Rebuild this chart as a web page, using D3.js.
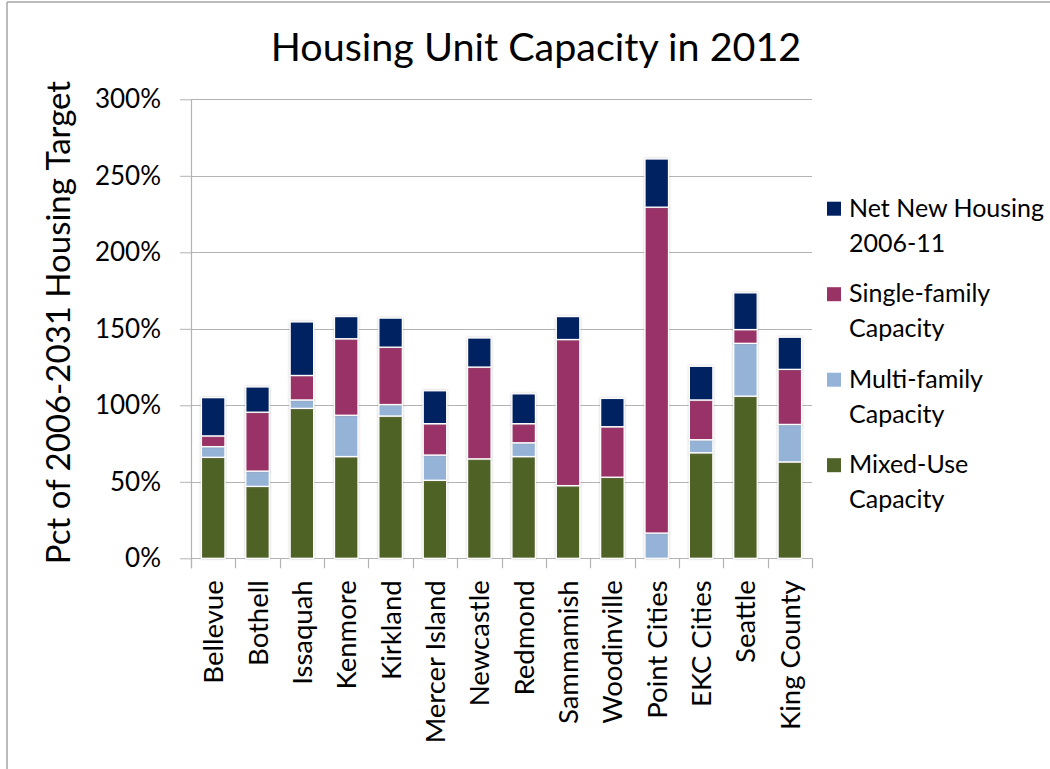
<!DOCTYPE html>
<html>
<head>
<meta charset="utf-8">
<script src="https://cdn.jsdelivr.net/npm/d3@7/dist/d3.min.js"></script>
<style>
  html, body { margin: 0; padding: 0; background: #fff; }
  svg { display: block; }
  text { font-family: Lato, "Open Sans", sans-serif; fill: #000; }
</style>
</head>
<body>
<svg id="chart" width="1050" height="769"></svg>
<script>
// ---- data ----
const categories = ["Bellevue", "Bothell", "Issaquah", "Kenmore", "Kirkland", "Mercer Island",
  "Newcastle", "Redmond", "Sammamish", "Woodinville", "Point Cities", "EKC Cities", "Seattle", "King County"];
const mixedUse     = [66, 47, 98, 66.5, 93, 51, 65, 66.5, 47.5, 53, 0, 69, 106, 63];
const multiFamily  = [7, 10, 5.5, 27, 7.5, 16.5, 0, 9, 0, 0, 16.5, 8.5, 34.5, 24.5];
const singleFamily = [7, 38.5, 16, 50, 37.5, 20.5, 60, 12.5, 95.5, 33, 213, 26, 9, 36];
const netNew       = [25, 16.5, 35, 14.5, 19, 21.5, 19, 19.5, 15, 18.5, 31.5, 22, 24, 21];
const seriesNames  = ["Mixed-Use Capacity", "Multi-family Capacity", "Single-family Capacity", "Net New Housing 2006-11"];
const seriesKeys   = ["mixed", "multi", "single", "net"];
const seriesColors = ["#4F6228", "#95B3D7", "#993366", "#002060"];
const yTicks       = [0, 50, 100, 150, 200, 250, 300];
const titleText    = "Housing Unit Capacity in 2012";
const yTitle       = "Pct of 2006-2031 Housing Target";

const rows = categories.map((c, i) => ({
  cat: c, mixed: mixedUse[i], multi: multiFamily[i], single: singleFamily[i], net: netNew[i]
}));

const svg = d3.select("#chart");
const W = 1050, H = 769;
const plot = { left: 191, right: 812, top: 99.3, bottom: 558.3 };

// frame lines
svg.append("line").attr("x1", 7).attr("x2", 7).attr("y1", 2).attr("y2", H)
  .attr("stroke", "#a6a6a6").attr("stroke-width", 1.5);
svg.append("line").attr("x1", 7).attr("x2", W).attr("y1", 2).attr("y2", 2)
  .attr("stroke", "#a6a6a6").attr("stroke-width", 1.5);

const x = d3.scaleBand().domain(categories).range([plot.left, plot.right]).paddingInner(0.47).paddingOuter(0.235);
const y = d3.scaleLinear().domain([0, 300]).range([plot.bottom, plot.top]);

// gridlines + y ticks
const yAxis = d3.axisLeft(y).tickValues(yTicks).tickSize(11).tickPadding(19).tickFormat(d => d + "%");
const gy = svg.append("g").attr("transform", `translate(${plot.left},0)`).call(yAxis);
gy.select(".domain").remove();
gy.selectAll(".tick line").attr("stroke", "#b3b3b3");
gy.selectAll(".tick text").attr("font-size", 26).attr("fill", "#111").style("font-family", "Lato, sans-serif");
svg.append("g").selectAll("line").data(yTicks).join("line")
  .attr("x1", plot.left).attr("x2", plot.right)
  .attr("y1", d => Math.round(y(d)) + 0.5).attr("y2", d => Math.round(y(d)) + 0.5)
  .attr("stroke", "#b3b3b3").attr("stroke-width", 1.2);
// y axis line
svg.append("line").attr("x1", plot.left + 0.5).attr("x2", plot.left + 0.5)
  .attr("y1", plot.top).attr("y2", plot.bottom + 10).attr("stroke", "#b3b3b3").attr("stroke-width", 1.2);

// x tick marks at band boundaries
const step = x.step();
const bounds = d3.range(categories.length + 1).map(i => plot.left + i * step);
svg.append("g").selectAll("line").data(bounds).join("line")
  .attr("x1", d => Math.round(d) + 0.5).attr("x2", d => Math.round(d) + 0.5)
  .attr("y1", plot.bottom).attr("y2", plot.bottom + 10)
  .attr("stroke", "#b3b3b3").attr("stroke-width", 1.2);

// stacked bars
const stack = d3.stack().keys(seriesKeys);
const stacked = stack(rows);
const defs = svg.append("defs");
const f = defs.append("filter").attr("id", "sh").attr("x", "-20%").attr("y", "-20%").attr("width", "140%").attr("height", "140%");
f.append("feDropShadow").attr("dx", 0).attr("dy", 0).attr("stdDeviation", 1.2).attr("flood-color", "#888").attr("flood-opacity", 0.5);

const gBars = svg.append("g");
stacked.forEach((layer, li) => {
  gBars.append("g").attr("fill", seriesColors[li])
    .selectAll("rect").data(layer.filter(d => d[1] - d[0] > 0)).join("rect")
    .attr("x", d => x(d.data.cat))
    .attr("width", x.bandwidth())
    .attr("y", d => y(d[1]))
    .attr("height", d => y(d[0]) - y(d[1]))
    .attr("stroke", "#fff").attr("stroke-width", 1.3)
    .attr("filter", "url(#sh)");
});

// x labels
const gx = svg.append("g");
gx.selectAll("text").data(categories).join("text")
  .attr("transform", d => `translate(${x(d) + x.bandwidth() / 2 + 10},${plot.bottom + 22}) rotate(-90)`)
  .attr("text-anchor", "end")
  .attr("font-size", 27.5).attr("fill", "#111")
  .text(d => d);

// title
svg.append("text").attr("x", 536).attr("y", 61).attr("text-anchor", "middle")
  .attr("font-size", 39.5).text(titleText);

// y title
svg.append("text").attr("transform", `translate(70,322.5) rotate(-90)`)
  .attr("text-anchor", "middle").attr("font-size", 33).text(yTitle);

// legend (top-to-bottom reversed order)
const legendOrder = [3, 2, 1, 0];
const lg = svg.append("g");
legendOrder.forEach((si, k) => {
  const by = 216.7 + k * 85.5;
  const words = seriesNames[si];
  const parts = si === 3 ? ["Net New Housing", "2006-11"] : [words.replace(" Capacity", ""), "Capacity"];
  lg.append("rect").attr("x", 827).attr("y", by - 15).attr("width", 14).attr("height", 14)
    .attr("fill", seriesColors[si]);
  parts.forEach((p, j) => {
    lg.append("text").attr("x", 849).attr("y", by + j * 35).attr("font-size", 25).attr("fill", "#111").text(p);
  });
});
</script>
</body>
</html>
